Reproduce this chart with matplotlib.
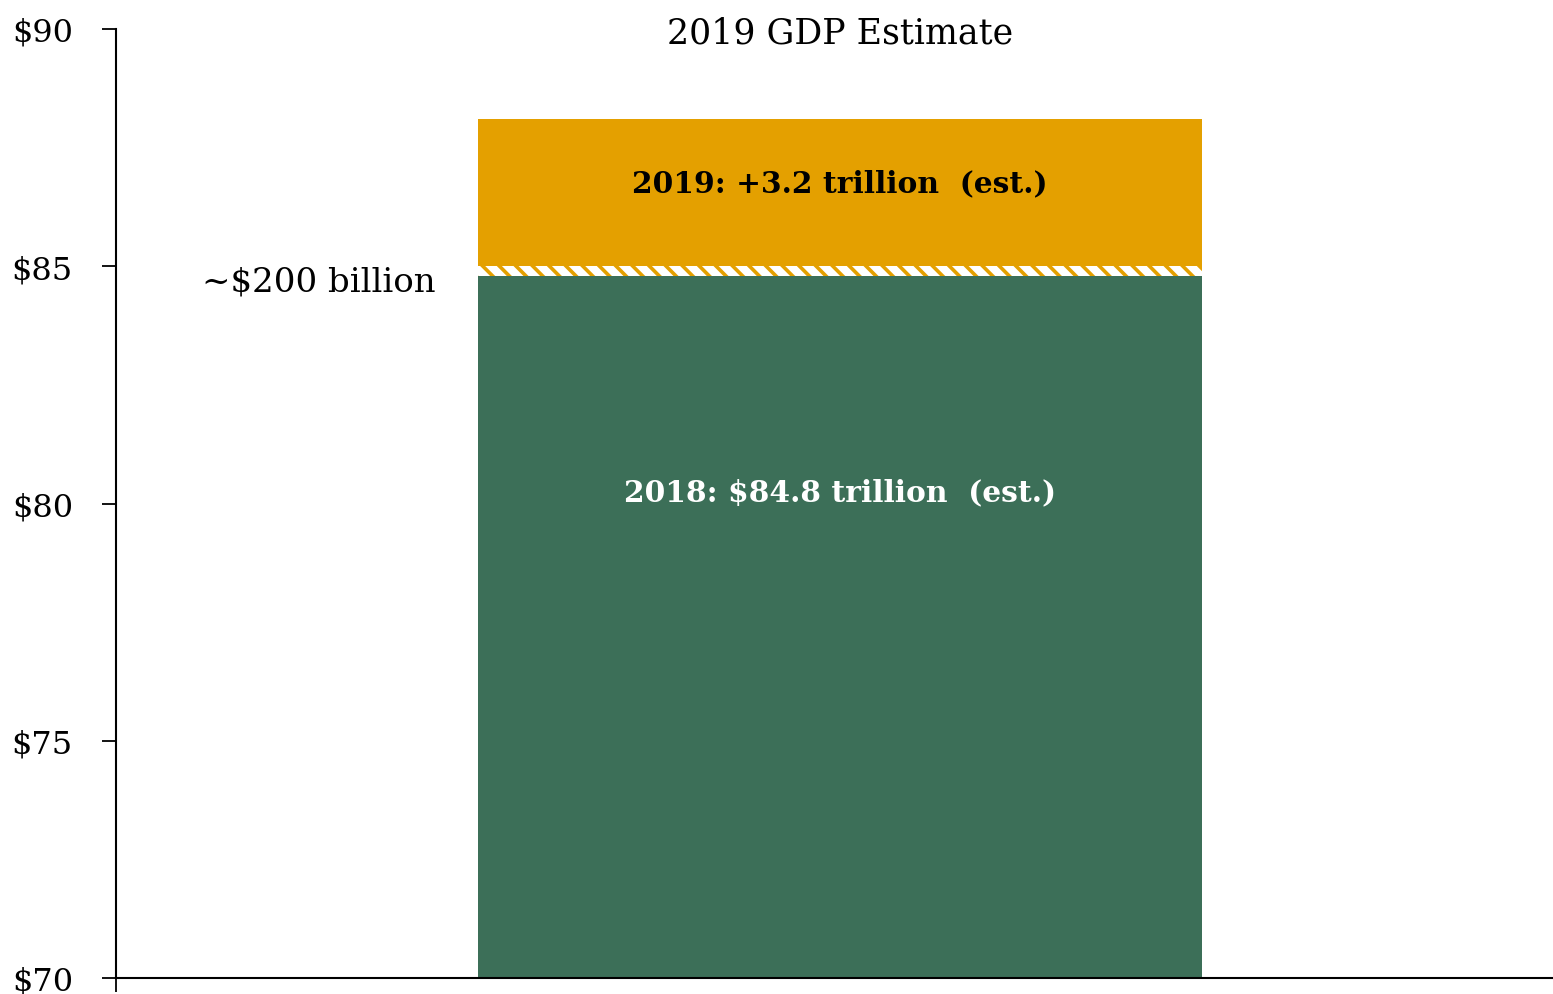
import matplotlib.pyplot as plt

# Data (trillions of dollars)
base_2018 = 84.8
gap_band = 0.2
growth_2019 = 3.1

title = '2019 GDP Estimate'
label_2018 = '2018: $84.8 trillion  (est.)'
label_2019 = '2019: +3.2 trillion  (est.)'
gap_label = '~$200 billion'
y_ticks = [70, 75, 80, 85, 90]

GREEN = '#3c6f58'
GOLD = '#e4a000'

plt.rcParams['font.family'] = ['DejaVu Serif']
plt.rcParams['hatch.linewidth'] = 2.6
plt.rcParams['hatch.color'] = GOLD

fig = plt.figure(figsize=(15.53, 9.95), dpi=100)
ax = fig.add_axes([116 / 1553, 1 - 979 / 995, 1 - 116 / 1553, (979 - 30) / 995])

ax.bar(0, base_2018 - 70, bottom=70, width=1.0, color=GREEN, linewidth=0)
ax.bar(0, gap_band, bottom=base_2018, width=1.0, facecolor='white',
       edgecolor=GOLD, hatch='\\\\', linewidth=0)
ax.bar(0, growth_2019, bottom=base_2018 + gap_band, width=1.0, color=GOLD, linewidth=0)

ax.set_xlim(-1.0, 0.985)
ax.set_ylim(70, 90)

ax.set_yticks(y_ticks)
ax.set_yticklabels(['$%d' % v for v in y_ticks], fontsize=23)
ax.set_xticks([-1.0])
ax.set_xticklabels([''])
ax.tick_params(axis='both', direction='out', length=10, width=1.3, pad=21)

for side in ['top', 'right']:
    ax.spines[side].set_visible(False)
for side in ['left', 'bottom']:
    ax.spines[side].set_linewidth(1.5)

ax.text(0, 89.92, title, ha='center', va='center', fontsize=25)
ax.text(0, 86.76, label_2019, ha='center', va='center', fontsize=21.4,
        fontweight='bold', color='black')
ax.text(0, 80.24, label_2018, ha='center', va='center', fontsize=21.4,
        fontweight='bold', color='white')
ax.text(-0.558, 84.67, gap_label, ha='right', va='center', fontsize=24.5)

fig.savefig('out.png', dpi=100)
